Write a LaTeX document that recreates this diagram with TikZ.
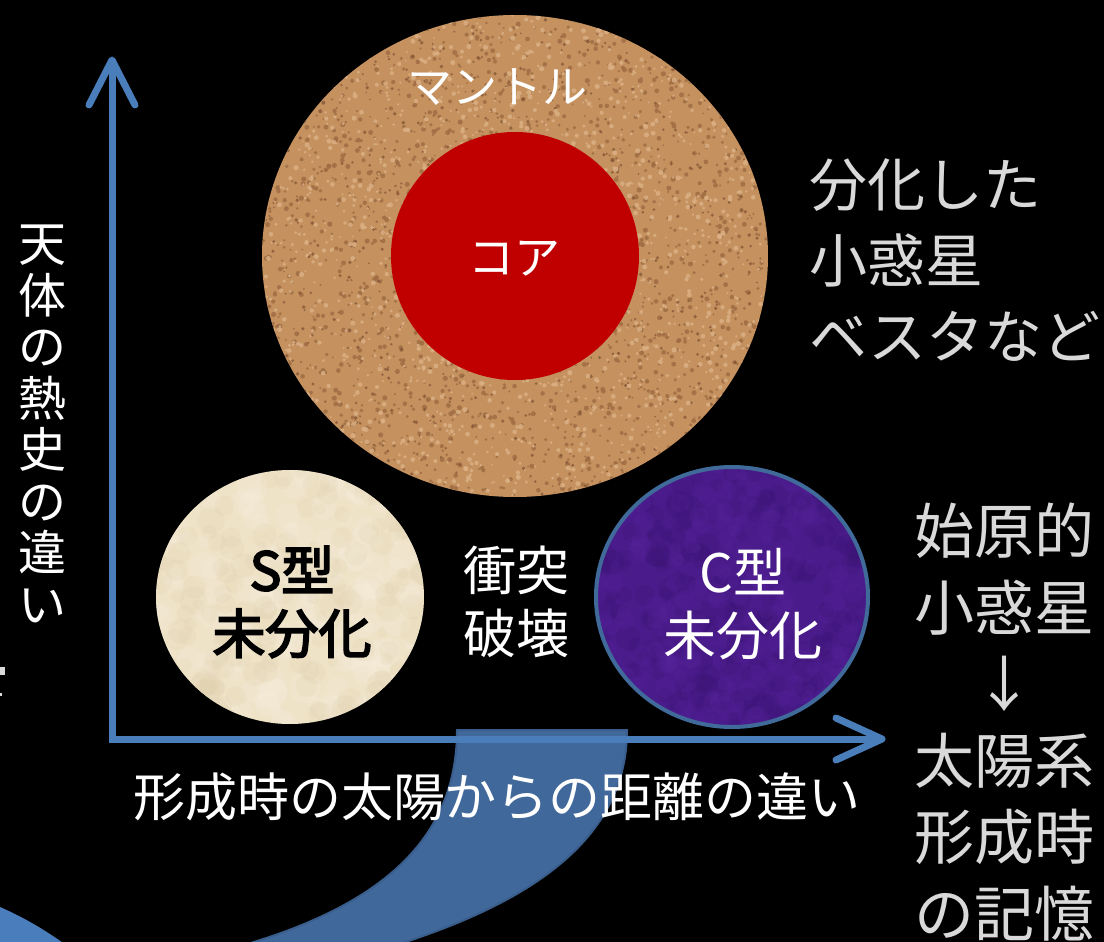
\documentclass[tikz,border=0pt]{standalone}
\usepackage{fontspec}
\setmainfont{Noto Sans CJK JP}
\newfontfamily\jpheavy[FakeBold=3.5]{Noto Sans CJK JP}
\definecolor{axisblue}{HTML}{4A7EBB}
\definecolor{bandblue}{HTML}{41689A}
\definecolor{bandedge}{HTML}{3A5E8C}
\definecolor{tipblue}{HTML}{4A7DBB}
\definecolor{mantlebase}{HTML}{C4915F}
\definecolor{mantledark}{HTML}{9E6B43}
\definecolor{mantledeep}{HTML}{7E5032}
\definecolor{mantlelight}{HTML}{DCB286}
\definecolor{corered}{HTML}{C00000}
\definecolor{sbase}{HTML}{EEE2C7}
\definecolor{slight}{HTML}{F6EEDD}
\definecolor{sdark}{HTML}{DFCFAD}
\definecolor{cbase}{HTML}{4A1B8B}
\definecolor{cdark}{HTML}{3A1372}
\definecolor{clight}{HTML}{5A27A0}
\definecolor{cedge}{HTML}{3F6A9A}
\definecolor{sidegray}{HTML}{D9D9D9}
\tikzset{
  axisline/.style={draw=axisblue, line width=7pt},
  axishead/.style={draw=axisblue, line width=7pt, line cap=round, line join=round},
  lbl/.style={inner sep=0pt, align=center, text=white},
  sidelbl/.style={inner sep=0pt, text=sidegray},
}
\newcommand{\fs}[2]{\fontsize{#1pt}{#2pt}\selectfont}
\begin{document}
\begin{tikzpicture}[x=1pt,y=-1pt]
\fill[black] (0,0) rectangle (1104,942);
\useasboundingbox (0,0) rectangle (1104,942);

% sweeping band in the lower left
\begin{scope}
  \clip (0,0) rectangle (1104,942);
  \filldraw[fill=bandblue, draw=bandedge, line width=2pt]
    (457,730) .. controls (457,840) and (380,905) .. (244,945)
    -- (380,950) .. controls (530,905) and (627,840) .. (627,730) -- cycle;
  \fill[tipblue] (0,907) .. controls (25,918) and (45,930) .. (66,945) -- (0,945) -- cycle;
\end{scope}

% cut-off marks at the left edge
\fill[sidegray] (0,667) rectangle (5,675);
\fill[sidegray] (0,693) rectangle (2,696);

\pgfmathsetseed{7}
% mantle with a grainy texture
\begin{scope}
  \clip (515,256) ellipse [x radius=253pt, y radius=241pt];
  \fill[mantlebase] (262,15) rectangle (768,497);
  \foreach \i in {1,...,2000}
    \fill[mantledark, fill opacity=0.8] ({515+253*rand},{256+241*rand}) circle [radius={1pt+1.6pt*rnd}];
  \foreach \i in {1,...,700}
    \fill[mantledeep, fill opacity=0.7] ({515+253*rand},{256+241*rand}) circle [radius={0.8pt+1.2pt*rnd}];
  \foreach \i in {1,...,1800}
    \fill[mantlelight, fill opacity=0.8] ({515+253*rand},{256+241*rand}) circle [radius={1pt+1.6pt*rnd}];
\end{scope}
% core
\fill[corered] (515,256) circle [radius=124pt];

% S-type body
\begin{scope}
  \clip (290,597) ellipse [x radius=134pt, y radius=127pt];
  \fill[sbase] (156,470) rectangle (424,724);
  \foreach \i in {1,...,160}
    \fill[slight, fill opacity=0.25] ({290+134*rand},{597+127*rand}) circle [radius={6pt+10pt*rnd}];
  \foreach \i in {1,...,160}
    \fill[sdark, fill opacity=0.2] ({290+134*rand},{597+127*rand}) circle [radius={5pt+9pt*rnd}];
\end{scope}

% C-type body
\begin{scope}
  \clip (732,597) ellipse [x radius=136pt, y radius=130pt];
  \fill[cbase] (596,467) rectangle (868,727);
  \foreach \i in {1,...,260}
    \fill[cdark, fill opacity=0.22] ({732+136*rand},{597+130*rand}) circle [radius={4pt+8pt*rnd}];
  \foreach \i in {1,...,200}
    \fill[clight, fill opacity=0.2] ({732+136*rand},{597+130*rand}) circle [radius={4pt+7pt*rnd}];
\end{scope}
\draw[cedge, line width=4pt] (732,597) ellipse [x radius=136pt, y radius=130pt];

% axes
\coordinate (origin) at (112,739);
\coordinate (ytip) at (112,60);
\coordinate (xtip) at (882,739);
\draw[axisline] (ytip) -- (origin) -- (xtip);
\draw[axishead] ([shift={(-23,45)}]ytip) -- (ytip) -- ([shift={(23,45)}]ytip);
\draw[axishead] ([shift={(-46,-21)}]xtip) -- (xtip) -- ([shift={(-46,21)}]xtip);

% labels
\node[lbl, font=\fs{45}{54}] (mantle) at (497,87) {マントル};
\node[lbl, font=\fs{46}{55}] (core) at (514,259) {コア};
\node[lbl, text=black, font=\jpheavy\fs{53}{63}] (stype) at (292,602) {S型\\未分化};
\node[lbl, font=\fs{53}{63}] (impact) at (516,602) {衝突\\破壊};
\node[lbl, font=\fs{53}{63}] (ctype) at (743,604) {C型\\未分化};
\node[lbl, font=\fs{48}{51.5}] (ylabel) at (42,424) {天\\体\\の\\熱\\史\\の\\違\\い};
\node[lbl, font=\fs{52}{60}] (xlabel) at (497,797) {形成時の太陽からの距離の違い};
\node[sidelbl, align=left, anchor=west, font=\fs{58}{76}] (diff) at (809,260) {分化した\\小惑星\\ベスタなど};
\node[sidelbl, align=center, font=\fs{60}{76.5}] (prim) at (1004,722) {始原的\\小惑星\\↓\\太陽系\\形成時\\の記憶};
\end{tikzpicture}
\end{document}
